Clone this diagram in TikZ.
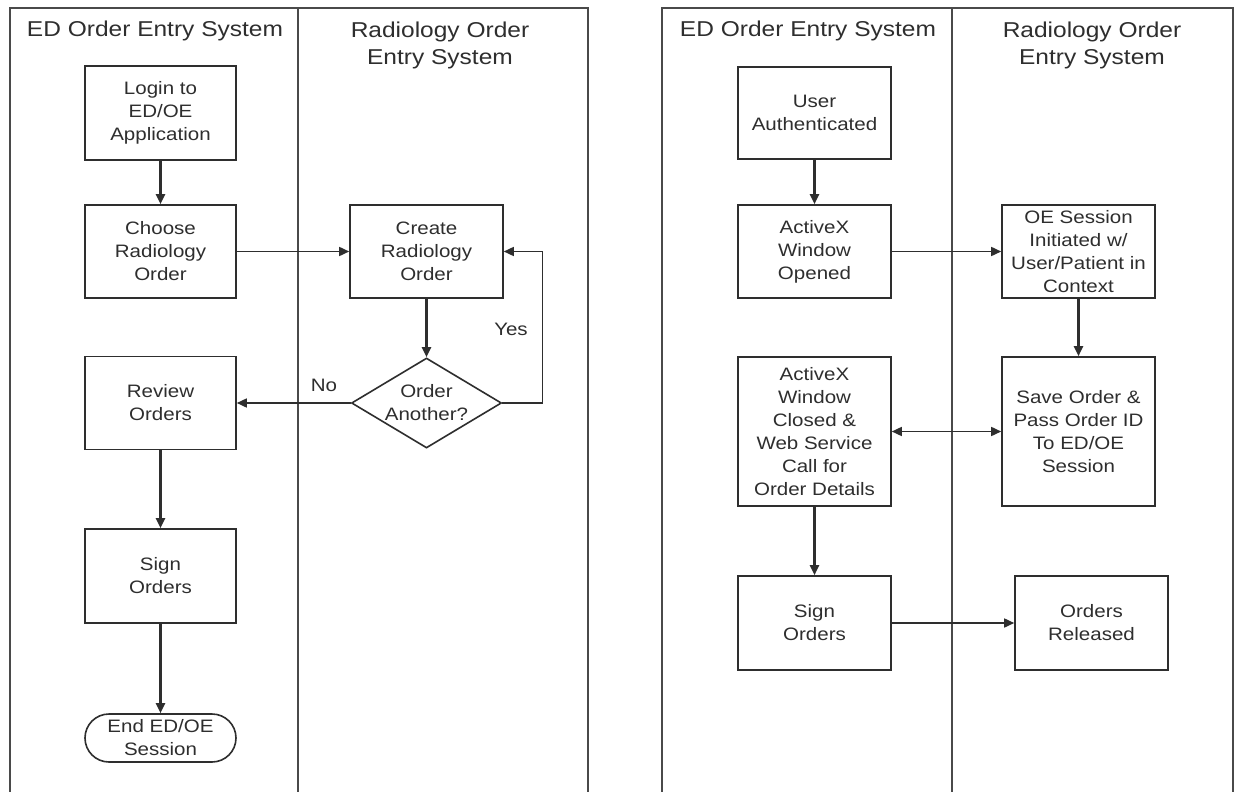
\documentclass[tikz,border=0pt]{standalone}
\usepackage{fontspec}
\newfontfamily\diagfont[FakeStretch=1.14]{Liberation Sans}
\usetikzlibrary{arrows.meta,shapes.geometric}
\newcommand\bxfont{\diagfont\fontsize{18}{23}\selectfont}
\newcommand\hdfont{\diagfont\fontsize{21.5}{27}\selectfont}
\definecolor{laneclr}{HTML}{4A4A4A}
\definecolor{boxclr}{HTML}{2E2E2E}
\definecolor{txtclr}{HTML}{2E2E2E}
\tikzset{
  lane/.style={draw=laneclr, line width=1.5pt},
  header/.style={font=\hdfont, text=txtclr, align=center, inner sep=0pt},
  stepbox/.style={draw=boxclr, line width=1.6pt, fill=white, inner sep=0pt,
    align=center, font=\bxfont, text=txtclr},
  decision/.style={diamond, draw=boxclr, line width=1.6pt, fill=white, inner sep=0pt},
  term/.style={stepbox, rounded corners=24pt},
  lbl/.style={font=\bxfont, text=txtclr, inner sep=0pt},
  arr/.style={draw=boxclr, line width=1.6pt, -{Triangle[length=10pt,width=9pt]}},
  varr/.style={arr, line width=2.2pt},
  dblarr/.style={draw=boxclr, line width=1.6pt, {Triangle[length=10pt,width=9pt]}-{Triangle[length=10pt,width=9pt]}}
}
\begin{document}
\begin{tikzpicture}[x=1pt,y=-1pt]
\useasboundingbox (0,0) rectangle (1240,792);
\fill[white] (0,0) rectangle (1240,792);

% ---------- swimlane frames ----------
\draw[lane] (10,792) -- (10,8) -- (588,8) -- (588,792);
\draw[lane] (298,8) -- (298,792);
\draw[lane] (662,792) -- (662,8) -- (1233,8) -- (1233,792);
\draw[lane] (952,8) -- (952,792);

\node[header] (hl1) at (155,31) {ED Order Entry System};
\node[header] (hl2) at (440,45) {Radiology Order\\Entry System};
\node[header] (hr1) at (808,31) {ED Order Entry System};
\node[header] (hr2) at (1092,45) {Radiology Order\\Entry System};

% ---------- left flow ----------
\node[stepbox, minimum width=151pt, minimum height=94pt] (login) at (160.5,113) {Login to\\ED/OE\\Application};
\node[stepbox, minimum width=151pt, minimum height=93pt] (choose) at (160.5,251.5) {Choose\\Radiology\\Order};
\node[stepbox, minimum width=153pt, minimum height=93pt] (create) at (426.5,251.5) {Create\\Radiology\\Order};
\node[decision, minimum width=150pt, minimum height=90pt,
      label={[lbl, align=center]center:Order\\Another?}] (dec) at (426.5,403) {};
\node[stepbox, minimum width=151pt, minimum height=93pt] (review) at (160.5,403) {Review\\Orders};
\node[stepbox, minimum width=151pt, minimum height=94pt] (sign1) at (160.5,576) {Sign\\Orders};
\node[term, minimum width=151pt, minimum height=48pt] (endn) at (160.5,738) {End ED/OE\\Session};

\draw[varr] (login) -- (choose);
\draw[arr] (choose) -- (create);
\draw[varr] (create) -- (dec);
\draw[arr] (dec.east) -- ++(40,0) |- (create.east);
\draw[arr] (dec.west) -- (review.east);
\draw[varr] (review) -- (sign1);
\draw[varr] (sign1) -- (endn);
\node[lbl] (yes) at (511,329) {Yes};
\node[lbl] (no) at (324,385) {No};

% ---------- right flow ----------
\node[stepbox, minimum width=153pt, minimum height=92pt] (auth) at (814.5,113) {User\\Authenticated};
\node[stepbox, minimum width=153pt, minimum height=93pt] (open) at (814.5,251.5) {ActiveX\\Window\\Opened};
\node[stepbox, minimum width=153pt, minimum height=93pt] (oe) at (1078.5,251.5) {OE Session\\Initiated w/\\User/Patient in\\Context};
\node[stepbox, minimum width=153pt, minimum height=149pt] (save) at (1078.5,431.5) {Save Order \&\\Pass Order ID\\To ED/OE\\Session};
\node[stepbox, minimum width=153pt, minimum height=149pt] (closed) at (814.5,431.5) {ActiveX\\Window\\Closed \&\\Web Service\\Call for\\Order Details};
\node[stepbox, minimum width=153pt, minimum height=94pt] (sign2) at (814.5,623) {Sign\\Orders};
\node[stepbox, minimum width=153pt, minimum height=94pt] (rel) at (1091.5,623) {Orders\\Released};

\draw[varr] (auth) -- (open);
\draw[arr] (open) -- (oe);
\draw[varr] (oe) -- (save);
\draw[dblarr] (closed) -- (save);
\draw[varr] (closed) -- (sign2);
\draw[arr] (sign2) -- (rel);
\end{tikzpicture}
\end{document}
